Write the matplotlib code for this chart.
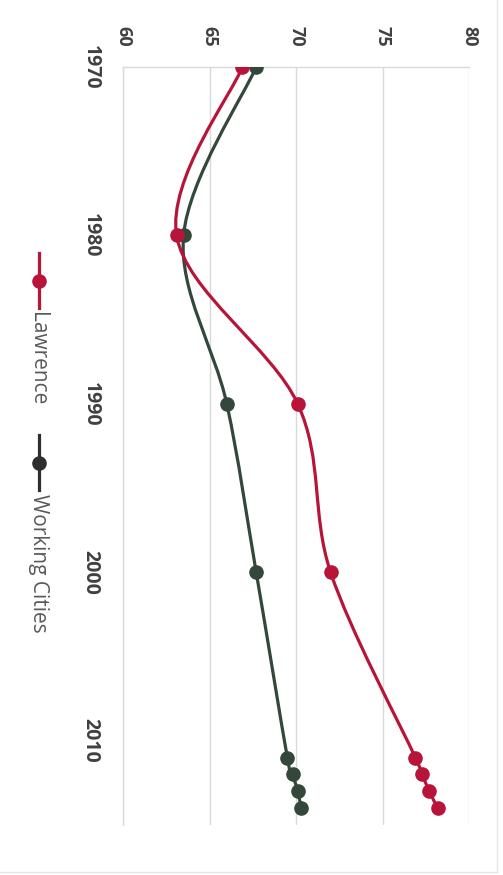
#Life expectancy style chart, Lawrence vs Working Cities (chart drawn turned on its side)
import numpy as np
import matplotlib
matplotlib.use('Agg')
import matplotlib.pyplot as plt
from matplotlib.path import Path
from matplotlib.patches import PathPatch
from matplotlib.lines import Line2D

#data
years = [1970, 1980, 1990, 2000, 2011, 2012, 2013, 2014]
lawrence = [66.9, 63.1, 70.1, 72.0, 76.9, 77.3, 77.7, 78.2]
working_cities = [67.7, 63.5, 66.0, 67.7, 69.5, 69.8, 70.1, 70.3]
series_names = ['Lawrence', 'Working Cities']
value_ticks = [60, 65, 70, 75, 80]
year_ticks = [1970, 1980, 1990, 2000, 2010]

red = '#b8143a'
green = '#34473b'
W, H = 503, 875


def smooth_path(xs, ys):
    #excel style smoothed line: bezier segments, control points from neighbours
    pts = np.column_stack([xs, ys]).astype(float)
    n = len(pts)
    verts = [pts[0]]
    codes = [Path.MOVETO]
    for i in range(n - 1):
        p0 = pts[max(i - 1, 0)]
        p1 = pts[i]
        p2 = pts[i + 1]
        p3 = pts[min(i + 2, n - 1)]
        verts += [p1 + (p2 - p0) / 6, p2 - (p3 - p1) / 6, p2]
        codes += [Path.CURVE4] * 3
    return Path(verts, codes)


fig = plt.figure(figsize=(W / 100, H / 100), dpi=100)
ax = fig.add_axes([123 / W, 1 - 825 / H, (469 - 123) / W, (825 - 67) / H])

#values go across, years go down
for vals, col in [(working_cities, green), (lawrence, red)]:
    ax.add_patch(PathPatch(smooth_path(vals, years), facecolor='none', edgecolor=col,
                           linewidth=2.3, capstyle='round', zorder=3))
    ax.plot(vals, years, linestyle='none', marker='o', markersize=9.5, color=col, zorder=4)

ax.set_xlim(60, 80)
ax.set_ylim(2015, 1970)
ax.set_xticks(value_ticks)
ax.set_yticks(year_ticks)
ax.xaxis.tick_top()
ax.grid(axis='x', color='#d9d9d9', linewidth=1)
ax.set_axisbelow(True)
for s in ['right', 'bottom']:
    ax.spines[s].set_visible(False)
for s in ['top', 'left']:
    ax.spines[s].set_color('#d9d9d9')
    ax.spines[s].set_linewidth(1)
ax.tick_params(axis='x', length=0, pad=15, labelrotation=-90, labelsize=13, labelcolor='#404040')
ax.tick_params(axis='y', length=0, pad=16, labelrotation=-90, labelsize=14, labelcolor='#404040')
for lab in ax.get_xticklabels() + ax.get_yticklabels():
    lab.set_fontfamily('Open Sans')
    lab.set_fontweight('bold')
for lab in ax.get_yticklabels():
    lab.set_va('center')

#legend, turned the same way as the chart
def px(x, y):
    return x / W, 1 - y / H

for name, col, y0, y1, ym in [(series_names[0], red, 253, 308, 281),
                              (series_names[1], '#2e2e2e', 435, 490, 463)]:
    a, b = px(39, y0)
    c, d = px(39, y1)
    fig.add_artist(Line2D([a, c], [b, d], color=col, linewidth=2.3, transform=fig.transFigure))
    mx, my = px(39, ym)
    fig.add_artist(Line2D([mx], [my], marker='o', markersize=9.5, color=col, transform=fig.transFigure))
    tx, ty = px(38, y1 + 4)
    fig.text(tx, ty, name, rotation=-90, rotation_mode='anchor', ha='left', va='center',
             fontsize=15, color='#595959', family='Open Sans')

#light frame of the chart area
fig.add_artist(Line2D([497 / W, 497 / W], [1, 1 - 872 / H], color='#e6e6e6', linewidth=1, transform=fig.transFigure))
fig.add_artist(Line2D([0, 497 / W], [1 - 872 / H, 1 - 872 / H], color='#e6e6e6', linewidth=1, transform=fig.transFigure))

fig.savefig('out.png', dpi=100)
